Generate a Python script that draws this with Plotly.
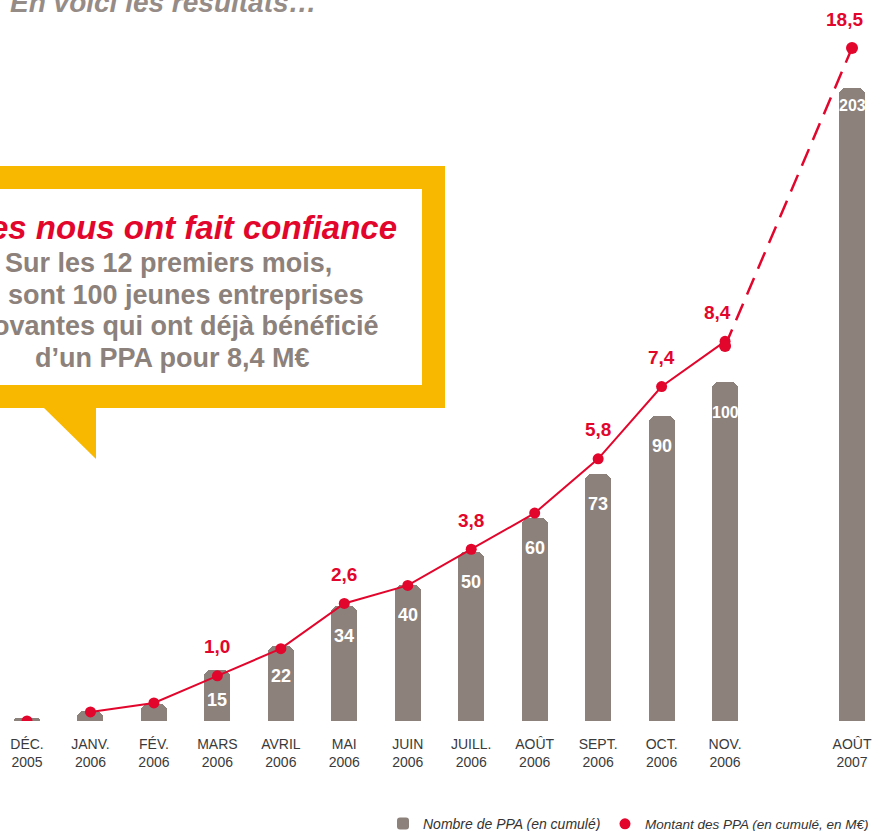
import plotly.graph_objects as go

# ---------------- data ----------------
months = ["DÉC.", "JANV.", "FÉV.", "MARS", "AVRIL", "MAI", "JUIN", "JUILL.",
          "AOÛT", "SEPT.", "OCT.", "NOV.", "AOÛT"]
years = ["2005"] + ["2006"] * 11 + ["2007"]
nb_ppa = [1, 3, 5, 15, 22, 34, 40, 50, 60, 73, 90, 100, 203]          # Nombre de PPA (cumulé)
montant = [0, 0.2, 0.4, 1.0, 1.6, 2.6, 3.0, 3.8, 4.6, 5.8, 7.4, 8.4, 18.5]  # M€ (cumulé)
montant_shown = [False, False, False, True, False, True, False, True,
                 False, True, True, True, True]

title_text = "En voici les résultats…"
callout_title = "es nous ont fait confiance"
callout_lines = ["Sur les 12 premiers mois,", "sont 100 jeunes entreprises",
                 "ovantes qui ont déjà bénéficié", "d’un PPA pour 8,4 M€"]
legend_bar = "Nombre de PPA (en cumulé)"
legend_pt = "Montant des PPA (en cumulé, en M€)"

# ---------------- style ----------------
W, H = 876, 831
BASE = 721                      # px of the baseline (bottom of plot area)
RED = "#e2062c"
BAR = "#8d817b"
YEL = "#f8b800"
GREY_TXT = "#8c817b"
FONT = "Liberation Sans, Arial, sans-serif"
NARROW = "Liberation Sans Narrow, Liberation Sans, Arial, sans-serif"

n = len(nb_ppa)
x_main = list(range(n - 1))             # the 12 monthly columns
x_last = n                              # one empty slot before the 2007 column
x_all = x_main + [x_last]
col_w = 63.45                           # px between columns
x_range = [-27 / col_w, x_last + (W - 852) / col_w]

# pixel scales of the (broken) infographic axes
bar_scale = 3.39                        # px per PPA (2006 part)
line_scale = 45.2                       # px per M€ (2006 part)
bar_scale_last = (BASE - 88) / nb_ppa[-1]
seg_scale = (346 - 48) / (montant[-1] - montant[-2])
seg_zero = 346 + montant[-2] * seg_scale  # px of value 0 on the dashed-segment axis

def px(x):
    return x / W

def py(y):
    return 1 - y / BASE

fig = go.Figure()

# bars (2005-2006)
fig.add_trace(go.Bar(
    x=x_main, y=nb_ppa[:-1], width=0.41, marker=dict(color=BAR, line_width=0),
    name=legend_bar, yaxis="y", showlegend=True, legend="legend"))
# bar 2007 (own scale - broken axis)
fig.add_trace(go.Bar(
    x=[x_last], y=[nb_ppa[-1]], width=0.41, marker=dict(color=BAR, line_width=0),
    name=legend_bar, yaxis="y3", showlegend=False))

# solid line Jan -> Nov 2006
fig.add_trace(go.Scatter(
    x=x_main[1:], y=montant[1:n - 1], mode="lines+markers", yaxis="y2",
    line=dict(color=RED, width=2), marker=dict(color=RED, size=11, opacity=1),
    showlegend=False, name=legend_pt))
# Dec 2005 lone point (legend entry)
fig.add_trace(go.Scatter(
    x=x_main[:1], y=montant[:1], mode="markers", yaxis="y2",
    marker=dict(color=RED, size=11, opacity=1), name=legend_pt, showlegend=True,
    legend="legend2"))
# dashed projection Nov 2006 -> Aug 2007
fig.add_trace(go.Scatter(
    x=[x_main[-1], x_last], y=montant[-2:], mode="lines+markers", yaxis="y4",
    line=dict(color=RED, width=2.5, dash="18px,10px"),
    marker=dict(color=RED, size=12, opacity=1), showlegend=False, name=legend_pt))

annotations = []
# bar value labels
for i, v in enumerate(nb_ppa):
    if v >= 10:
        last = i == n - 1
        annotations.append(dict(
            x=x_all[i], y=v, yref="y3" if last else "y", xref="x",
            text=f"<b>{v}</b>", showarrow=False, yanchor="middle",
            yshift=-17 if last else -30,
            font=dict(family=FONT, size=16 if v >= 100 else 18, color="white")))
# line value labels
for i, (v, s) in enumerate(zip(montant, montant_shown)):
    if s:
        last = i == n - 1
        annotations.append(dict(
            x=x_all[i], y=v, yref="y4" if last else "y2", xref="x",
            text="<b>" + f"{v:.1f}".replace(".", ",") + "</b>", showarrow=False,
            yanchor="middle", yshift=29, xshift=-8 if i >= n - 2 else 0,
            font=dict(family=FONT, size=19, color=RED)))

# heading and callout text
annotations.append(dict(
    xref="paper", yref="paper", x=px(8), y=py(3), xanchor="left", yanchor="middle",
    text=f"<b><i>{title_text}</i></b>", showarrow=False,
    font=dict(family=FONT, size=28, color="#968c87")))
annotations.append(dict(
    xref="paper", yref="paper", x=px(399), y=py(227), xanchor="right", yanchor="middle",
    text=f"<b><i>{callout_title}</i></b>", showarrow=False,
    font=dict(family=NARROW, size=33, color=RED)))
for j, (line, right) in enumerate(zip(callout_lines, [334, 366, 381, 312])):
    annotations.append(dict(
        xref="paper", yref="paper", x=px(right), y=py(263 + 31.7 * j),
        xanchor="right", yanchor="middle", text=f"<b>{line}</b>", showarrow=False,
        font=dict(family=FONT, size=27, color=GREY_TXT)))

shapes = [
    dict(type="rect", xref="paper", yref="paper", x0=px(-20), x1=px(445),
         y0=py(408), y1=py(166), fillcolor=YEL, line_width=0, layer="below"),
    dict(type="rect", xref="paper", yref="paper", x0=px(-20), x1=px(422),
         y0=py(385), y1=py(189), fillcolor="white", line_width=0, layer="below"),
    dict(type="path", xref="paper", yref="paper",
         path=f"M {px(43)},{py(407)} L {px(96)},{py(407)} L {px(96)},{py(459)} Z",
         fillcolor=YEL, line_width=0, layer="below"),
]

def legend_style(size):
    return dict(orientation="h", yanchor="middle", xanchor="left",
                font=dict(family=FONT, size=size, color="#333333", style="italic"),
                bgcolor="rgba(0,0,0,0)", itemclick=False, itemdoubleclick=False)

fig.update_layout(
    width=W, height=H, autosize=False,
    margin=dict(l=0, r=0, t=0, b=H - BASE, pad=0, autoexpand=False),
    paper_bgcolor="white", plot_bgcolor="white",
    barmode="overlay", barcornerradius=7, bargap=0,
    font=dict(family=FONT, color="#333333"),
    xaxis=dict(range=x_range, tickmode="array", tickvals=x_all,
               ticktext=[f"{m}<br>{y}" for m, y in zip(months, years)],
               tickfont=dict(family=FONT, size=14, color="#3a3a3a"),
               showgrid=False, zeroline=False, showline=False, ticks="",
               ticklabelstandoff=13, fixedrange=True),
    yaxis=dict(range=[0, BASE / bar_scale], visible=False, fixedrange=True),
    yaxis2=dict(range=[0, BASE / line_scale], overlaying="y", visible=False),
    yaxis3=dict(range=[0, BASE / bar_scale_last], overlaying="y", visible=False),
    yaxis4=dict(range=[(seg_zero - BASE) / seg_scale, seg_zero / seg_scale],
                overlaying="y", visible=False),
    legend=dict(x=px(383), y=py(824), **legend_style(14)),
    legend2=dict(x=px(605), y=py(824), **legend_style(13.5)),
    annotations=annotations, shapes=shapes,
)

fig.write_html("out.html", config={"displayModeBar": False},
               post_script="document.body.style.margin='0';")
